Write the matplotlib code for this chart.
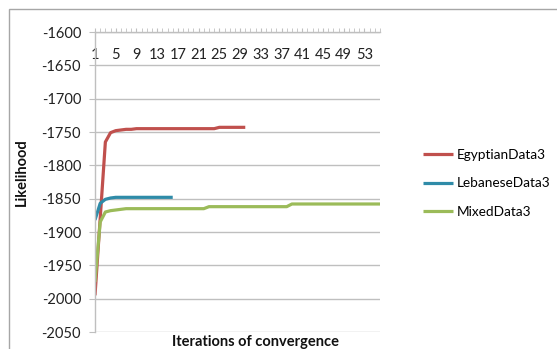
import matplotlib
matplotlib.use("Agg")
import matplotlib.pyplot as plt
from matplotlib.patches import Rectangle
import numpy as np

plt.rcParams['font.family'] = ['Lato', 'DejaVu Sans']

iterations = list(range(1, 57))

egyptian = [-1995, -1880, -1765, -1751, -1748, -1747, -1746, -1746] + [-1745] * 16 + [-1743] * 6
lebanese = [-1882, -1857, -1851, -1849, -1848, -1848] + [-1848] * 10
mixed = [-1975, -1885, -1870, -1868, -1867, -1866] + [-1865] * 16 + [-1862] * 16 + [-1858] * 18

series_names = ["EgyptianData3", "LebaneseData3", "MixedData3"]
series_values = [egyptian, lebanese, mixed]
colors = ["#C0504D", "#2F8BA8", "#9BBB59"]

y_ticks = list(range(-2050, -1599, 50))
x_tick_labels = list(range(1, 57, 4))

W, H = 557, 349
fig = plt.figure(figsize=(W / 100, H / 100), dpi=100)
fig.patch.set_facecolor("white")

# outer chart border
fig.patches.append(Rectangle((9 / W, -0.1), 1.2, (H - 9) / H + 0.1, transform=fig.transFigure,
                             fill=False, edgecolor="#A6A6A6", linewidth=1.0))

ax = fig.add_axes([95 / W, 1 - 332 / H, (380 - 95) / W, (332 - 32) / H])

for name, vals, c in zip(series_names, series_values, colors):
    ax.plot(iterations[:len(vals)], vals, color=c, linewidth=2.3, label=name,
            solid_capstyle="butt", solid_joinstyle="round")

ax.set_xlim(1, 56)
ax.set_ylim(-2050, -1600)
ax.set_yticks(y_ticks)
ax.set_yticklabels([str(v) for v in y_ticks])
ax.yaxis.grid(True, color="#BFBFBF", linewidth=1.0)
ax.set_axisbelow(True)

for s in ["right", "bottom"]:
    ax.spines[s].set_visible(False)
for s in ["left", "top"]:
    ax.spines[s].set_color("#BFBFBF")
    ax.spines[s].set_linewidth(1.0)

ax.set_xticks(x_tick_labels)
ax.set_xticklabels([str(v) for v in x_tick_labels])
ax.set_xticks(iterations, minor=True)
ax.tick_params(axis="x", which="both", top=True, bottom=False, labeltop=True, labelbottom=False,
               direction="out", length=3, color="#BFBFBF", pad=-24.5, labelsize=10.5, labelcolor="#222222")
ax.tick_params(axis="y", direction="out", length=4, color="#BFBFBF", pad=6, labelsize=10.5,
               labelcolor="#222222")

fig.text(256 / W, 1 - 342 / H, "Iterations of convergence", ha="center", va="center",
         fontsize=10.5, fontweight="bold", color="#111111")
fig.text(22 / W, 1 - 172 / H, "Likelihood", ha="center", va="center", rotation=90,
         fontsize=10.5, fontweight="bold", color="#111111")

leg = fig.legend(loc="upper left", bbox_to_anchor=(423 / W, 1 - 149 / H), frameon=False,
                 fontsize=9.8, handlelength=2.2, handletextpad=0.3, labelspacing=1.2,
                 borderaxespad=0, borderpad=0)

fig.savefig("out.png", dpi=100)
